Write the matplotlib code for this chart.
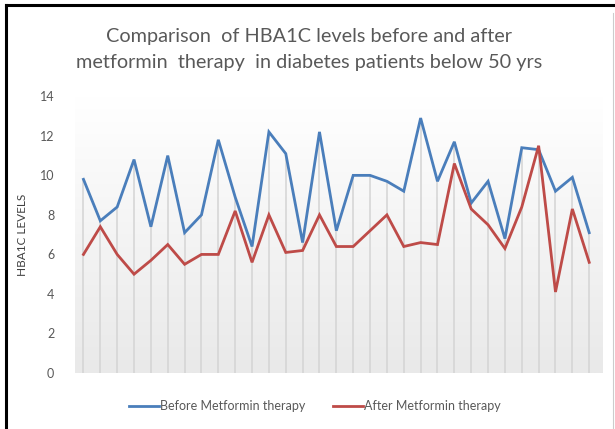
"""
HbA1c prima e dopo la terapia con metformina (pazienti sotto i 50 anni).
Grafico a linee in stile Excel: sfondo sfumato, drop lines, legenda in basso.
"""

import matplotlib
matplotlib.use("Agg")
import matplotlib.pyplot as plt
import numpy as np
from matplotlib.lines import Line2D

# valori HbA1c per paziente (31 pazienti)
before = [9.8, 7.7, 8.4, 10.8, 7.4, 11.0, 7.1, 8.0, 11.8, 8.9,
          6.4, 12.2, 11.1, 6.6, 12.2, 7.2, 10.0, 10.0, 9.7, 9.2,
          12.9, 9.7, 11.7, 8.6, 9.7, 6.8, 11.4, 11.3, 9.2, 9.9, 7.1]
after = [6.0, 7.4, 6.0, 5.0, 5.7, 6.5, 5.5, 6.0, 6.0, 8.2,
         5.6, 8.0, 6.1, 6.2, 8.0, 6.4, 6.4, 7.2, 8.0, 6.4,
         6.6, 6.5, 10.6, 8.3, 7.5, 6.3, 8.4, 11.5, 4.1, 8.3, 5.6]
y_ticks = [0, 2, 4, 6, 8, 10, 12, 14]

title = ("Comparison  of HBA1C levels before and after\n"
         "metformin  therapy  in diabetes patients below 50 yrs")
labels = ["Before Metformin therapy", "After Metformin therapy"]

BLUE = "#4a7ebb"
RED = "#be4b48"
TXT = "#595959"
FONT = ["Lato", "DejaVu Sans"]

plt.rcParams["font.family"] = FONT

fig = plt.figure(figsize=(6.15, 4.29), dpi=100)
ax = fig.add_axes([0.122, 0.1305, 0.858, 0.645])

x = np.arange(len(before))
x0, x1 = -0.5, len(before) - 0.2

# sfondo sfumato dell'area del grafico (bianco in alto, grigio in basso)
grad = np.linspace(1.0, 0.0, 256).reshape(-1, 1)
ax.imshow(grad, extent=[x0, x1, 0, 14], aspect="auto", origin="upper",
          cmap=matplotlib.colors.LinearSegmentedColormap.from_list(
              "bg", ["#e9e9e9", "#ffffff"]), zorder=0)

# drop lines fino al valore massimo di ogni categoria
tops = np.maximum(before, after)
ax.vlines(x, 0, tops, color="#d4d4d4", linewidth=1.1, zorder=1)

ax.plot(x, before, color=BLUE, linewidth=2.0, zorder=3, solid_joinstyle="miter")
ax.plot(x, after, color=RED, linewidth=2.0, zorder=3, solid_joinstyle="miter")

ax.set_xlim(x0, x1)
ax.set_ylim(0, 14)
ax.set_yticks(y_ticks)
ax.set_xticks([])
ax.tick_params(axis="y", length=0, labelsize=9, labelcolor=TXT, pad=15)
for s in ax.spines.values():
    s.set_visible(False)
ax.set_ylabel("HBA1C LEVELS", fontsize=8.5, color="#404040", labelpad=8)

fig.text(0.503, 0.885, title, ha="center", va="center", fontsize=14.3,
         color=TXT, linespacing=1.6)

handles = [Line2D([], [], color=BLUE, linewidth=2.0),
           Line2D([], [], color=RED, linewidth=2.0)]
fig.legend(handles, labels, loc="center", bbox_to_anchor=(0.512, 0.053),
           ncol=2, frameon=False, fontsize=9, handlelength=2.4,
           handletextpad=0.1, columnspacing=2.2, labelcolor=TXT)

# cornice (bordi sinistro e superiore scuri, destro sottile)
fig.add_artist(Line2D([0.009, 0.009], [0, 0.988], color="black",
                      linewidth=2.2, transform=fig.transFigure))
fig.add_artist(Line2D([0.009, 1.0], [0.988, 0.988], color="black",
                      linewidth=2.2, transform=fig.transFigure))
fig.add_artist(Line2D([0.996, 0.996], [0, 0.97], color="#cccccc",
                      linewidth=0.8, transform=fig.transFigure))

fig.savefig("out.png", dpi=100)
plt.close(fig)
